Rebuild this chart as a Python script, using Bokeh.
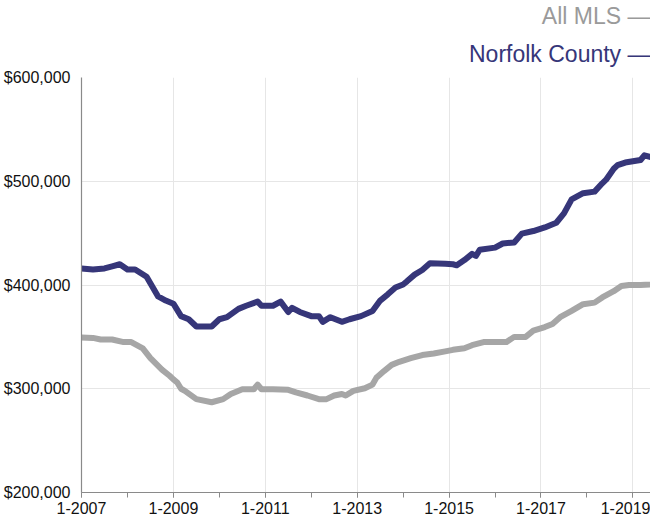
from bokeh.plotting import figure
from bokeh.models import FixedTicker, NumeralTickFormatter, Title, ColumnDataSource
from bokeh.embed import file_html
from bokeh.resources import INLINE

# ---- data ----
norfolk_months = ["2007-01", "2007-04", "2007-07", "2007-09", "2007-11", "2008-01", "2008-03", "2008-06",
                  "2008-09", "2008-11", "2009-01", "2009-03", "2009-05", "2009-07", "2009-11", "2010-01",
                  "2010-03", "2010-06", "2010-08", "2010-11", "2010-12", "2011-03", "2011-05", "2011-07",
                  "2011-08", "2011-10", "2012-01", "2012-03", "2012-04", "2012-06", "2012-09", "2012-11",
                  "2013-02", "2013-05", "2013-07", "2013-09", "2013-11", "2014-01", "2014-02", "2014-04",
                  "2014-06", "2014-08", "2014-12", "2015-02", "2015-03", "2015-05", "2015-07", "2015-08",
                  "2015-09", "2016-01", "2016-03", "2016-06", "2016-08", "2016-11", "2017-02", "2017-05",
                  "2017-07", "2017-09", "2017-12", "2018-03", "2018-05", "2018-06", "2018-08", "2018-09",
                  "2018-11", "2019-03", "2019-04", "2019-06", "2019-07", "2019-08"]
norfolk_values = [416000, 415000, 416000, 418000, 420000, 415000, 415000, 408000,
                  389000, 385000, 382000, 370000, 367000, 360000, 360000, 367000,
                  369000, 377000, 380000, 384000, 380000, 380000, 384000, 374000,
                  378000, 374000, 370000, 370000, 364500, 369000, 364500, 367000,
                  370000, 375000, 385000, 391000, 397500, 400500, 403500, 410000,
                  414500, 421000, 420500, 420000, 419000, 424000, 430000, 428000,
                  434000, 436000, 440000, 441000, 449500, 452000, 455500, 460000,
                  469000, 482500, 488500, 490000, 498000, 501500, 512000, 515500,
                  518000, 520500, 525000, 523000, 520500, 523000]

mls_months = ["2007-01", "2007-04", "2007-06", "2007-09", "2007-12", "2008-02", "2008-05", "2008-07",
              "2008-10", "2008-12", "2009-01", "2009-02", "2009-03", "2009-04", "2009-07", "2009-11",
              "2010-02", "2010-04", "2010-07", "2010-10", "2010-11", "2010-12", "2011-03", "2011-07",
              "2011-09", "2011-12", "2012-03", "2012-05", "2012-07", "2012-09", "2012-10", "2012-12",
              "2013-03", "2013-05", "2013-06", "2013-08", "2013-10", "2013-12", "2014-03", "2014-06",
              "2014-09", "2014-12", "2015-02", "2015-05", "2015-07", "2015-10", "2016-01", "2016-04",
              "2016-06", "2016-09", "2016-11", "2017-02", "2017-04", "2017-06", "2017-09", "2017-12",
              "2018-03", "2018-05", "2018-08", "2018-10", "2018-12", "2019-03", "2019-06", "2019-07"]
mls_values = [349500, 349000, 347500, 347500, 345000, 345000, 339000, 329500,
              318500, 312500, 309000, 306000, 300000, 298000, 290000, 287000,
              290000, 295000, 299500, 299500, 304000, 299500, 299500, 299000,
              296500, 293500, 290000, 290000, 293500, 295000, 293500, 298000,
              300500, 304000, 310500, 317000, 323000, 326000, 329500, 332500,
              334000, 336000, 337500, 339000, 342000, 345000, 345000, 345000,
              350000, 350000, 356000, 359500, 362500, 369000, 375000, 381500,
              383000, 388000, 394000, 399000, 400000, 400000, 400500, 405000]

tick_years = [2007, 2009, 2011, 2013, 2015, 2017, 2019]
tick_labels = ["1-2007", "1-2009", "1-2011", "1-2013", "1-2015", "1-2017", "1-2019"]
y_ticks = [200000, 300000, 400000, 500000, 600000]
series_names = ["All MLS", "Norfolk County"]


def month_index(s):
    y, m = s.split("-")
    return (int(y) - 2007) * 12 + (int(m) - 1)


FONT = "Liberation Sans"
NAVY = "#363679"
GRAY = "#a6a6a6"
X_END = 148.6

p = figure(width=650, height=518, output_backend="svg", toolbar_location=None,
           x_range=(0, X_END), y_range=(200000, 600000),
           min_border_left=78, min_border_right=0, min_border_top=73, min_border_bottom=26)
p.outline_line_color = None
p.background_fill_color = "white"
p.border_fill_color = "white"

src_mls = ColumnDataSource(dict(x=[month_index(m) for m in mls_months], y=mls_values))
src_nor = ColumnDataSource(dict(x=[month_index(m) for m in norfolk_months], y=norfolk_values))
p.line("x", "y", source=src_mls, line_color=GRAY, line_width=6, line_join="round", line_cap="round")
p.line("x", "y", source=src_nor, line_color=NAVY, line_width=6, line_join="round", line_cap="round")

# axes
xt = [(y - 2007) * 12 for y in tick_years]
p.xaxis.ticker = FixedTicker(ticks=xt, minor_ticks=[i * 12 for i in range(13)])
p.xaxis.major_label_overrides = {t: l for t, l in zip(xt, tick_labels)}
p.yaxis.ticker = FixedTicker(ticks=y_ticks)
p.yaxis.formatter = NumeralTickFormatter(format="$0,0")

for ax in (p.xaxis[0], p.yaxis[0]):
    ax.axis_line_color = "#8a8a8a"
    ax.axis_line_width = 1.2
    ax.major_label_text_font = FONT
    ax.major_label_text_font_size = "16px"
    ax.major_label_text_color = "#111111"

p.xaxis.major_tick_line_color = "#8a8a8a"
p.xaxis.minor_tick_line_color = "#8a8a8a"
p.xaxis.major_tick_out = 5
p.xaxis.major_tick_in = 0
p.xaxis.minor_tick_out = 5
p.xaxis.minor_tick_in = 0
p.xaxis.major_label_standoff = 4

p.yaxis.major_tick_line_color = None
p.yaxis.minor_tick_line_color = None
p.yaxis.major_tick_out = 0
p.yaxis.major_tick_in = 0
p.yaxis.minor_tick_out = 0
p.yaxis.minor_tick_in = 0
p.yaxis.major_label_standoff = 11

p.xgrid.grid_line_color = "#e6e6e6"
p.ygrid.grid_line_color = "#e6e6e6"

# legend texts (top right) as right-aligned titles above the frame
p.add_layout(Title(text=series_names[1] + " \u2014", align="right", text_font=FONT,
                   text_font_size="23px", text_font_style="normal", text_color=NAVY,
                   standoff=21), "above")
p.add_layout(Title(text=series_names[0] + " \u2014", align="right", text_font=FONT,
                   text_font_size="23px", text_font_style="normal", text_color="#9a9a9a",
                   standoff=0), "above")

open("out.html", "w").write(file_html(p, INLINE))
